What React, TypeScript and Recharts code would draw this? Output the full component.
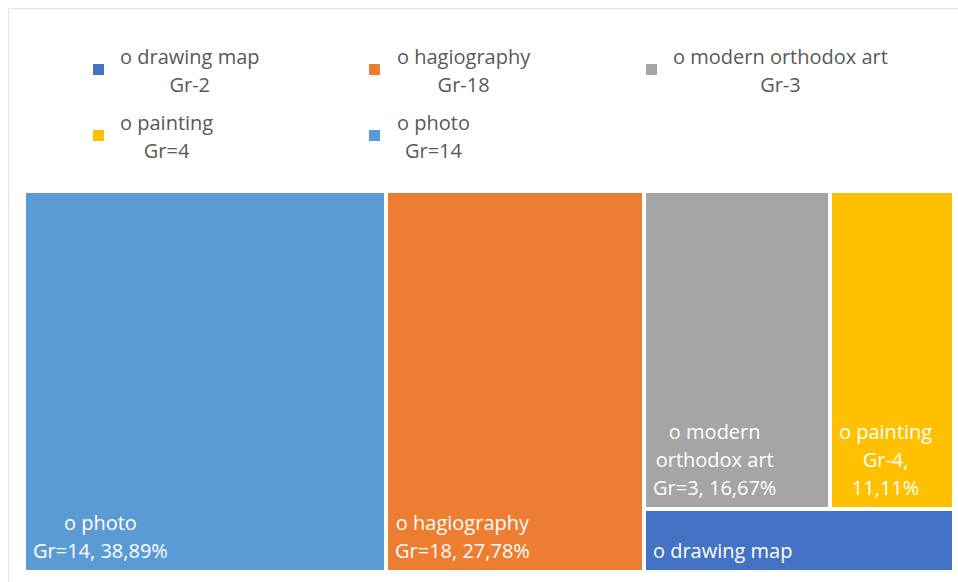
import React from "react";
import { Treemap } from "recharts";

// treemap cells, biggest first
const categories = ["photo", "hagiography", "modern orthodox art", "painting", "drawing map"];
const counts = [7, 5, 3, 2, 1];
const cellCodes = ["Gr=14", "Gr=18", "Gr=3", "Gr-4", "Gr-2"];
const colors = ["#5B9BD5", "#ED7D31", "#A5A5A5", "#FFC000", "#4472C4"];

// legend, in the order it is listed
const legendNames = ["drawing map", "hagiography", "modern orthodox art", "painting", "photo"];
const legendCodes = ["Gr-2", "Gr-18", "Gr-3", "Gr=4", "Gr=14"];

const FONT = "'Open Sans', 'Noto Sans', sans-serif";
const FONT_SIZE = 20;
const LINE = 28;

const total = counts.reduce((a, b) => a + b, 0);

const treeData = categories.map((name, i) => ({
  name,
  size: counts[i],
  code: cellCodes[i],
  pct: ((counts[i] / total) * 100).toFixed(2).replace(".", ","),
}));

let ctx: CanvasRenderingContext2D | null = null;
function textWidth(s: string) {
  if (!ctx) ctx = document.createElement("canvas").getContext("2d");
  if (!ctx) return s.length * FONT_SIZE * 0.55;
  ctx.font = `${FONT_SIZE}px 'Open Sans'`;
  return ctx.measureText(s).width;
}

function wrap(text: string, maxWidth: number) {
  const words = text.split(" ");
  const lines: string[] = [];
  let cur = "";
  for (const w of words) {
    const next = cur ? cur + " " + w : w;
    if (cur && textWidth(next) > maxWidth) {
      lines.push(cur);
      cur = w;
    } else {
      cur = next;
    }
  }
  if (cur) lines.push(cur);
  return lines;
}

function TreemapCell(props: any) {
  const { x, y, width, height, depth, name, code, pct } = props;
  if (depth !== 1) return <g />;
  const color = colors[categories.indexOf(name)];
  const maxW = width - 20;
  let lines = wrap(`o ${name}`, maxW);
  if (height > 90) lines = lines.concat(wrap(`${code}, ${pct}%`, maxW));
  const blockW = Math.max(...lines.map(textWidth));
  const cx = x + 9 + blockW / 2;
  const lastY = y + height - 22;
  return (
    <g>
      <rect x={x + 2} y={y + 2} width={width - 4} height={height - 4} fill={color} />
      {lines.map((line, i) => (
        <text
          key={i}
          x={cx}
          y={lastY - (lines.length - 1 - i) * LINE}
          textAnchor="middle"
          dominantBaseline="central"
          fill="#ffffff"
          fontFamily={FONT}
          fontSize={FONT_SIZE}
        >
          {line}
        </text>
      ))}
    </g>
  );
}

const legendCols = [93, 369, 646];
const legendTextCols = [120, 397, 673];
const legendRows = [43, 109];

function LegendBlock() {
  return (
    <>
      {legendNames.map((name, i) => {
        const col = i % 3;
        const row = Math.floor(i / 3);
        const top = legendRows[row];
        return (
          <React.Fragment key={name}>
            <div
              style={{
                position: "absolute",
                left: legendCols[col],
                top: top + 21,
                width: 11,
                height: 11,
                background: colors[categories.indexOf(name)],
              }}
            />
            <div
              style={{
                position: "absolute",
                left: legendTextCols[col],
                top,
                textAlign: "center",
                whiteSpace: "nowrap",
                fontFamily: FONT,
                fontSize: FONT_SIZE,
                lineHeight: `${LINE}px`,
                color: "#595959",
              }}
            >
              <div>o {name}</div>
              <div>{legendCodes[i]}</div>
            </div>
          </React.Fragment>
        );
      })}
    </>
  );
}

export default function App() {
  return (
    <div
      style={{
        position: "absolute",
        left: 0,
        top: 0,
        width: 958,
        height: 582,
        background: "#ffffff",
        overflow: "hidden",
      }}
    >
      <div
        style={{
          position: "absolute",
          left: 8,
          top: 8,
          width: 980,
          height: 600,
          border: "1px solid #e4e4e4",
        }}
      />
      <LegendBlock />
      <div style={{ position: "absolute", left: 24, top: 191 }}>
        <Treemap
          width={930}
          height={381}
          data={treeData}
          dataKey="size"
          nameKey="name"
          aspectRatio={1.3}
          isAnimationActive={false}
          content={<TreemapCell />}
        />
      </div>
    </div>
  );
}
